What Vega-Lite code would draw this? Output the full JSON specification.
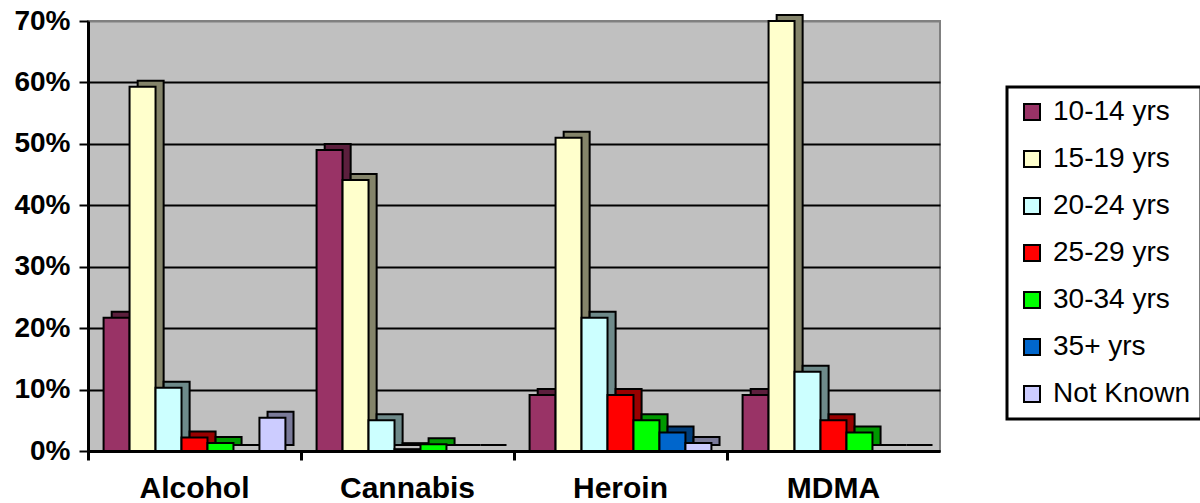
{
  "$schema": "https://vega.github.io/schema/vega-lite/v6.json",
  "width": 852,
  "height": 430,
  "autosize": {"type": "none"},
  "padding": {"left": 88, "top": 21, "right": 260, "bottom": 52},
  "background": "white",
  "config": {
    "font": "Liberation Sans",
    "view": {"fill": "#C0C0C0", "stroke": "#808080", "strokeWidth": 2},
    "legend": {"strokeColor": "black", "padding": 11, "fillColor": "white"}
  },
  "data": {
    "values": [
      {"drug": "Alcohol", "age": "10-14 yrs", "pct": 21.7},
      {"drug": "Alcohol", "age": "15-19 yrs", "pct": 59.3},
      {"drug": "Alcohol", "age": "20-24 yrs", "pct": 10.3},
      {"drug": "Alcohol", "age": "25-29 yrs", "pct": 2.2},
      {"drug": "Alcohol", "age": "30-34 yrs", "pct": 1.3},
      {"drug": "Alcohol", "age": "35+ yrs", "pct": 0},
      {"drug": "Alcohol", "age": "Not Known", "pct": 5.4},
      {"drug": "Cannabis", "age": "10-14 yrs", "pct": 49.0},
      {"drug": "Cannabis", "age": "15-19 yrs", "pct": 44.1},
      {"drug": "Cannabis", "age": "20-24 yrs", "pct": 5.0},
      {"drug": "Cannabis", "age": "25-29 yrs", "pct": 0.3},
      {"drug": "Cannabis", "age": "30-34 yrs", "pct": 1.1},
      {"drug": "Cannabis", "age": "35+ yrs", "pct": 0},
      {"drug": "Cannabis", "age": "Not Known", "pct": 0},
      {"drug": "Heroin", "age": "10-14 yrs", "pct": 9.1},
      {"drug": "Heroin", "age": "15-19 yrs", "pct": 51.0},
      {"drug": "Heroin", "age": "20-24 yrs", "pct": 21.7},
      {"drug": "Heroin", "age": "25-29 yrs", "pct": 9.1},
      {"drug": "Heroin", "age": "30-34 yrs", "pct": 5.0},
      {"drug": "Heroin", "age": "35+ yrs", "pct": 3.0},
      {"drug": "Heroin", "age": "Not Known", "pct": 1.3},
      {"drug": "MDMA", "age": "10-14 yrs", "pct": 9.1},
      {"drug": "MDMA", "age": "15-19 yrs", "pct": 70.0},
      {"drug": "MDMA", "age": "20-24 yrs", "pct": 12.9},
      {"drug": "MDMA", "age": "25-29 yrs", "pct": 5.0},
      {"drug": "MDMA", "age": "30-34 yrs", "pct": 3.0},
      {"drug": "MDMA", "age": "35+ yrs", "pct": 0},
      {"drug": "MDMA", "age": "Not Known", "pct": 0}
    ]
  },
  "layer": [
    {
      "mark": {"type": "bar", "stroke": "black", "strokeWidth": 2, "yOffset": -6, "y2Offset": -6},
      "encoding": {
        "x": {
          "field": "drug",
          "type": "nominal",
          "sort": ["Alcohol", "Cannabis", "Heroin", "MDMA"],
          "scale": {"paddingInner": 0, "paddingOuter": 0},
          "axis": null
        },
        "xOffset": {
          "field": "age",
          "type": "nominal",
          "sort": ["10-14 yrs", "15-19 yrs", "20-24 yrs", "25-29 yrs", "30-34 yrs", "35+ yrs", "Not Known"],
          "scale": {"paddingInner": 0, "paddingOuter": 0.6, "align": 0.76}
        },
        "y": {
          "field": "pct",
          "type": "quantitative",
          "scale": {"domain": [0, 70], "nice": false},
          "axis": null
        },
        "color": {
          "field": "age",
          "type": "nominal",
          "scale": {
            "domain": ["10-14 yrs", "15-19 yrs", "20-24 yrs", "25-29 yrs", "30-34 yrs", "35+ yrs", "Not Known"],
            "range": ["#5C1F3D", "#84846A", "#6E8A8A", "#990000", "#009900", "#003D7A", "#7A7A99"]
          },
          "legend": null
        }
      }
    },
    {
      "mark": {"type": "bar", "stroke": "black", "strokeWidth": 2},
      "encoding": {
        "x": {
          "field": "drug",
          "type": "nominal",
          "sort": ["Alcohol", "Cannabis", "Heroin", "MDMA"],
          "axis": {
            "orient": "bottom",
            "title": null,
            "ticks": false,
            "labelAngle": 0,
            "labelFont": "Liberation Sans",
            "labelFontSize": 30,
            "labelFontWeight": "bold",
            "labelColor": "black",
            "labelPadding": 22,
            "domainColor": "black",
            "domainWidth": 3
          }
        },
        "xOffset": {
          "field": "age",
          "type": "nominal",
          "sort": ["10-14 yrs", "15-19 yrs", "20-24 yrs", "25-29 yrs", "30-34 yrs", "35+ yrs", "Not Known"],
          "scale": {"paddingInner": 0, "paddingOuter": 0.6, "align": 0.5}
        },
        "y": {
          "field": "pct",
          "type": "quantitative",
          "axis": {
            "orient": "left",
            "title": null,
            "values": [0, 10, 20, 30, 40, 50, 60, 70],
            "labelExpr": "datum.value + '%'",
            "labelFont": "Liberation Sans",
            "labelFontSize": 28,
            "labelFontWeight": "bold",
            "labelColor": "black",
            "labelPadding": 9,
            "tickSize": 9,
            "tickWidth": 2,
            "tickColor": "black",
            "domainColor": "black",
            "domainWidth": 3,
            "grid": true,
            "gridWidth": 2,
            "gridOpacity": 1,
            "gridColor": {"condition": {"test": "datum.value >= 70", "value": "#808080"}, "value": "black"}
          }
        },
        "color": {
          "field": "age",
          "type": "nominal",
          "scale": {
            "domain": ["10-14 yrs", "15-19 yrs", "20-24 yrs", "25-29 yrs", "30-34 yrs", "35+ yrs", "Not Known"],
            "range": ["#993366", "#FFFFCC", "#CCFFFF", "#FF0000", "#00FF00", "#0066CC", "#CCCCFF"]
          },
          "legend": {
            "orient": "none",
            "legendX": 919,
            "legendY": 66,
            "title": null,
            "symbolType": "square",
            "symbolSize": 256,
            "symbolStrokeColor": "black",
            "symbolStrokeWidth": 2,
            "symbolOpacity": 1,
            "labelFont": "Liberation Sans",
            "labelFontSize": 28,
            "labelColor": "black",
            "labelOffset": 7,
            "labelLimit": 300,
            "rowPadding": 19,
            "encoding": {"legend": {"strokeWidth": {"value": 3}}}
          }
        }
      }
    },
    {
      "mark": {"type": "bar", "opacity": 0},
      "encoding": {
        "x": {
          "field": "drug",
          "type": "nominal",
          "sort": ["Alcohol", "Cannabis", "Heroin", "MDMA"],
          "axis": {
            "orient": "bottom",
            "title": null,
            "bandPosition": 0,
            "labels": false,
            "domain": false,
            "ticks": true,
            "tickSize": 9,
            "tickWidth": 3,
            "tickColor": "black"
          }
        }
      }
    }
  ],
  "resolve": {
    "axis": {"x": "independent", "y": "independent"},
    "scale": {"color": "independent", "xOffset": "independent"}
  }
}
